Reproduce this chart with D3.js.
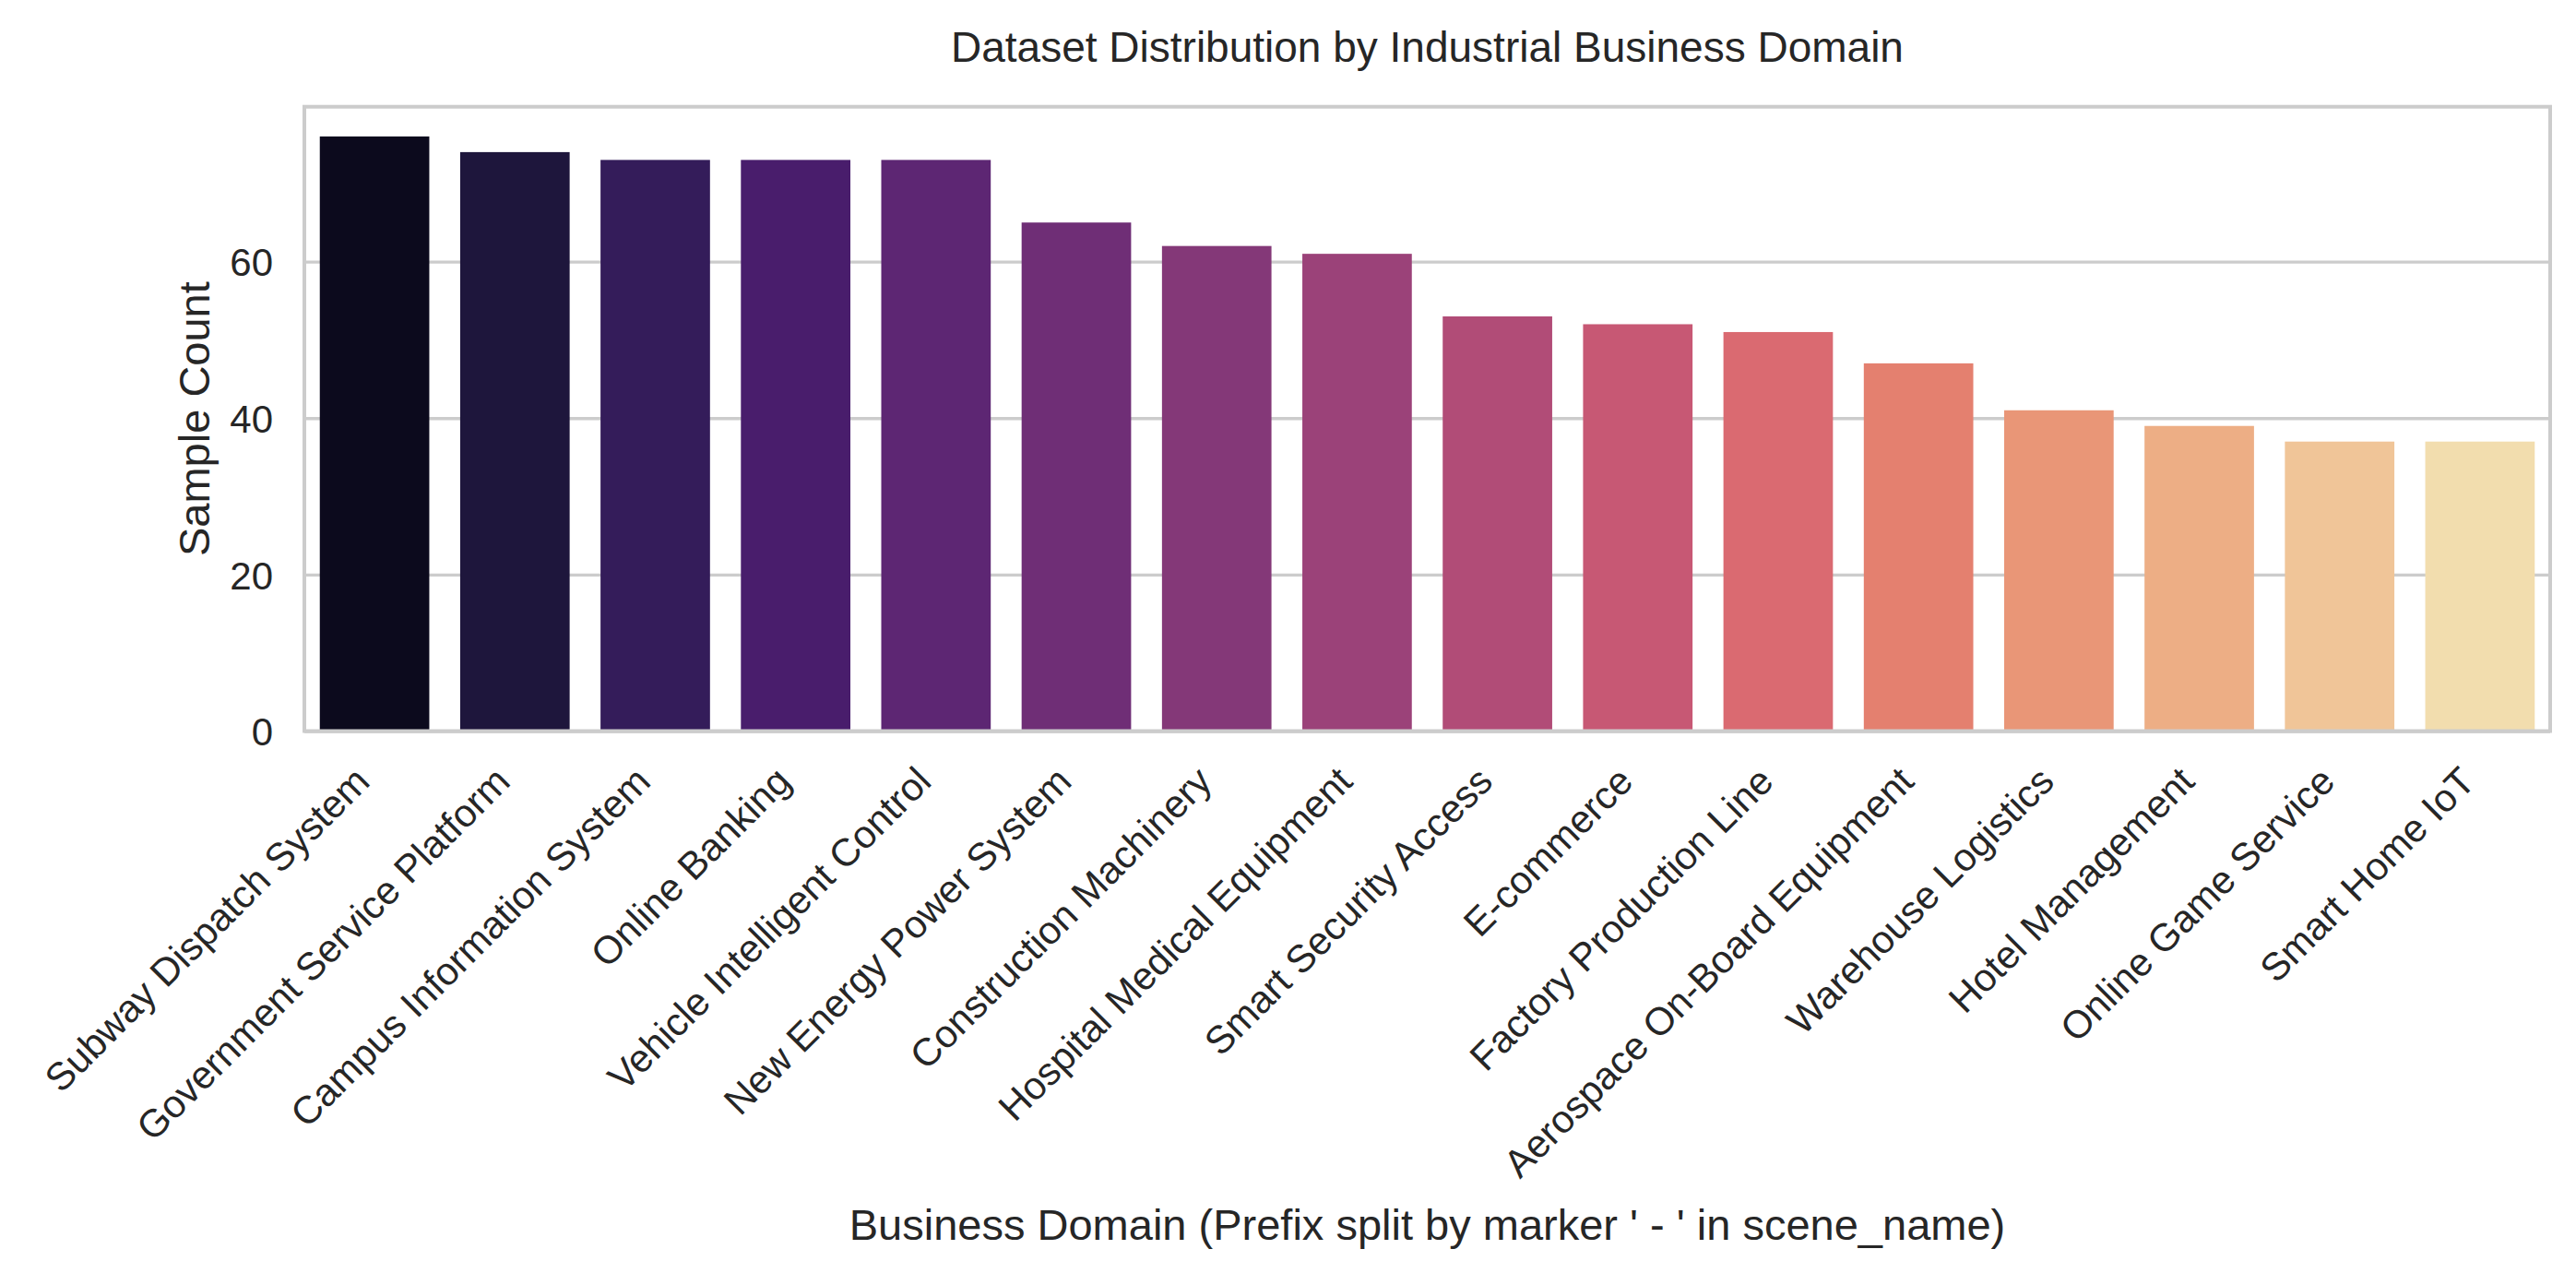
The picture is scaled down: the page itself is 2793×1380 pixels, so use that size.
<!DOCTYPE html>
<html>
<head>
<meta charset="utf-8">
<script src="https://cdn.jsdelivr.net/npm/d3@7"></script>
<style>
	body { margin: 0; background: #fff; }
	text { font-family: 'Liberation Sans', Arial, sans-serif; fill: #262626; }
</style>
</head>
<body>
<div id="chart"></div>
<script>
// Datos del gráfico
const domains = [
	'Subway Dispatch System',
	'Government Service Platform',
	'Campus Information System',
	'Online Banking',
	'Vehicle Intelligent Control',
	'New Energy Power System',
	'Construction Machinery',
	'Hospital Medical Equipment',
	'Smart Security Access',
	'E-commerce',
	'Factory Production Line',
	'Aerospace On-Board Equipment',
	'Warehouse Logistics',
	'Hotel Management',
	'Online Game Service',
	'Smart Home IoT',
];
const sampleCounts = [76, 74, 73, 73, 73, 65, 62, 61, 53, 52, 51, 47, 41, 39, 37, 37];
const yTicks = [0, 20, 40, 60];

const titleText = 'Dataset Distribution by Industrial Business Domain';
const xLabelText = "Business Domain (Prefix split by marker ' - ' in scene_name)";
const yLabelText = 'Sample Count';

// Dimensiones
const W = 2793;
const H = 1380;
const margin = { top: 115.7, right: 28, bottom: 587.5, left: 330 };
const width = W - margin.left - margin.right;
const height = H - margin.top - margin.bottom;

const svg = d3
	.select('#chart')
	.append('svg')
	.attr('width', W)
	.attr('height', H)
	.append('g')
	.attr('transform', `translate(${margin.left},${margin.top})`);

// Escalas
const x = d3.scaleBand().domain(domains).range([0, width]).paddingInner(0.22).paddingOuter(0.11);
const y = d3
	.scaleLinear()
	.domain([0, d3.max(sampleCounts) * 1.05])
	.range([height, 0]);

// Paleta magma desaturada (como seaborn)
const colors = domains.map((d, i) => {
	const c = d3.hsl(d3.interpolateMagma((i + 1) / (domains.length + 1)));
	c.s *= 0.75;
	return c.formatHex();
});

// Rejilla horizontal
const grid = svg
	.append('g')
	.call(d3.axisLeft(y).tickValues(yTicks).tickSize(-width).tickFormat(''));
grid.select('.domain').remove();
grid.selectAll('line').attr('stroke', '#cccccc').attr('stroke-width', 3.3);

// Barras
svg
	.selectAll('.bar')
	.data(sampleCounts)
	.enter()
	.append('rect')
	.attr('class', 'bar')
	.attr('x', (d, i) => x(domains[i]))
	.attr('width', x.bandwidth())
	.attr('y', (d) => y(d))
	.attr('height', (d) => y(0) - y(d))
	.attr('fill', (d, i) => colors[i]);

// Marco
svg
	.append('rect')
	.attr('x', 0)
	.attr('y', 0)
	.attr('width', width)
	.attr('height', height)
	.attr('fill', 'none')
	.attr('stroke', '#cccccc')
	.attr('stroke-width', 4);

// Eje Y
const yAxis = svg.append('g').call(d3.axisLeft(y).tickValues(yTicks).tickSize(0).tickPadding(34));
yAxis.select('.domain').remove();
yAxis.selectAll('text').attr('font-size', 42).attr('font-family', null).attr('dy', '0.36em');

// Eje X con etiquetas giradas
const xAxis = svg
	.append('g')
	.attr('transform', `translate(0,${height})`)
	.call(d3.axisBottom(x).tickSize(0));
xAxis.select('.domain').remove();
xAxis
	.selectAll('text')
	.attr('font-size', 42)
	.attr('font-family', null)
	.attr('text-anchor', 'end')
	.attr('x', 0)
	.attr('y', 0)
	.attr('dy', null)
	.attr('transform', 'translate(-3,57) rotate(-45)');

// Título y etiquetas
svg
	.append('text')
	.attr('x', width / 2)
	.attr('y', 66.7 - margin.top)
	.attr('text-anchor', 'middle')
	.attr('font-size', 46)
	.text(titleText);

svg
	.append('text')
	.attr('x', width / 2)
	.attr('y', 1344 - margin.top)
	.attr('text-anchor', 'middle')
	.attr('font-size', 47)
	.text(xLabelText);

svg
	.append('text')
	.attr('transform', `translate(${227 - margin.left},${height / 2}) rotate(-90)`)
	.attr('text-anchor', 'middle')
	.attr('font-size', 47)
	.text(yLabelText);
</script>
</body>
</html>
